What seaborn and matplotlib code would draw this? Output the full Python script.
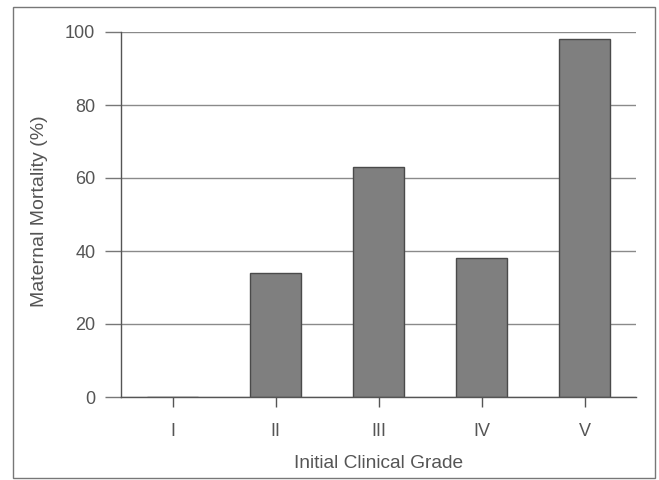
import matplotlib
matplotlib.use("Agg")
import matplotlib.pyplot as plt
import seaborn as sns
import pandas as pd
from matplotlib.patches import Rectangle

grades = ["I", "II", "III", "IV", "V"]
mortality = [0, 34, 63, 38, 98]
yticks = [0, 20, 40, 60, 80, 100]

sns.set_style("white")
plt.rcParams['font.family'] = ['Liberation Sans', 'DejaVu Sans']

df = pd.DataFrame({"grade": grades, "mortality": mortality})

fig = plt.figure(figsize=(6.59, 4.80), dpi=100)
ax = fig.add_axes([121/659, 1-397/480, (636-121)/659, (397-32)/480])

sns.barplot(data=df, x="grade", y="mortality", color="#7f7f7f", saturation=1,
            edgecolor="#4a4a4a", linewidth=1.0, width=0.5, ax=ax, zorder=3)

ax.set_xlim(-0.5, 4.5)
ax.set_ylim(0, 100)
ax.set_yticks(yticks)
ax.yaxis.grid(True, color="#8a8a8a", linewidth=1.0, zorder=0)
ax.set_axisbelow(True)
for s in ["top", "right"]:
    ax.spines[s].set_visible(False)
for s in ["left", "bottom"]:
    ax.spines[s].set_color("#555555")
    ax.spines[s].set_linewidth(1.0)
    ax.spines[s].set_zorder(5)
ax.tick_params(axis="y", direction="out", length=11.5, width=1.0, color="#777777",
               labelsize=13, labelcolor="#555555", pad=7, left=True)
ax.tick_params(axis="x", direction="out", length=7, width=1.0, color="#555555",
               labelsize=13, labelcolor="#555555", pad=11.5, bottom=True)
ax.set_xlabel("Initial Clinical Grade", fontsize=13.75, color="#555555", labelpad=11)
ax.set_ylabel("Maternal Mortality (%)", fontsize=14, color="#555555")
ax.yaxis.set_label_coords(-0.142, 0.51)

fig.patches.append(Rectangle((13/659, 1-478/480), (655-13)/659, (478-7)/480,
                             transform=fig.transFigure, fill=False,
                             edgecolor="#777777", linewidth=1.0))

fig.savefig("out.png", dpi=100)
